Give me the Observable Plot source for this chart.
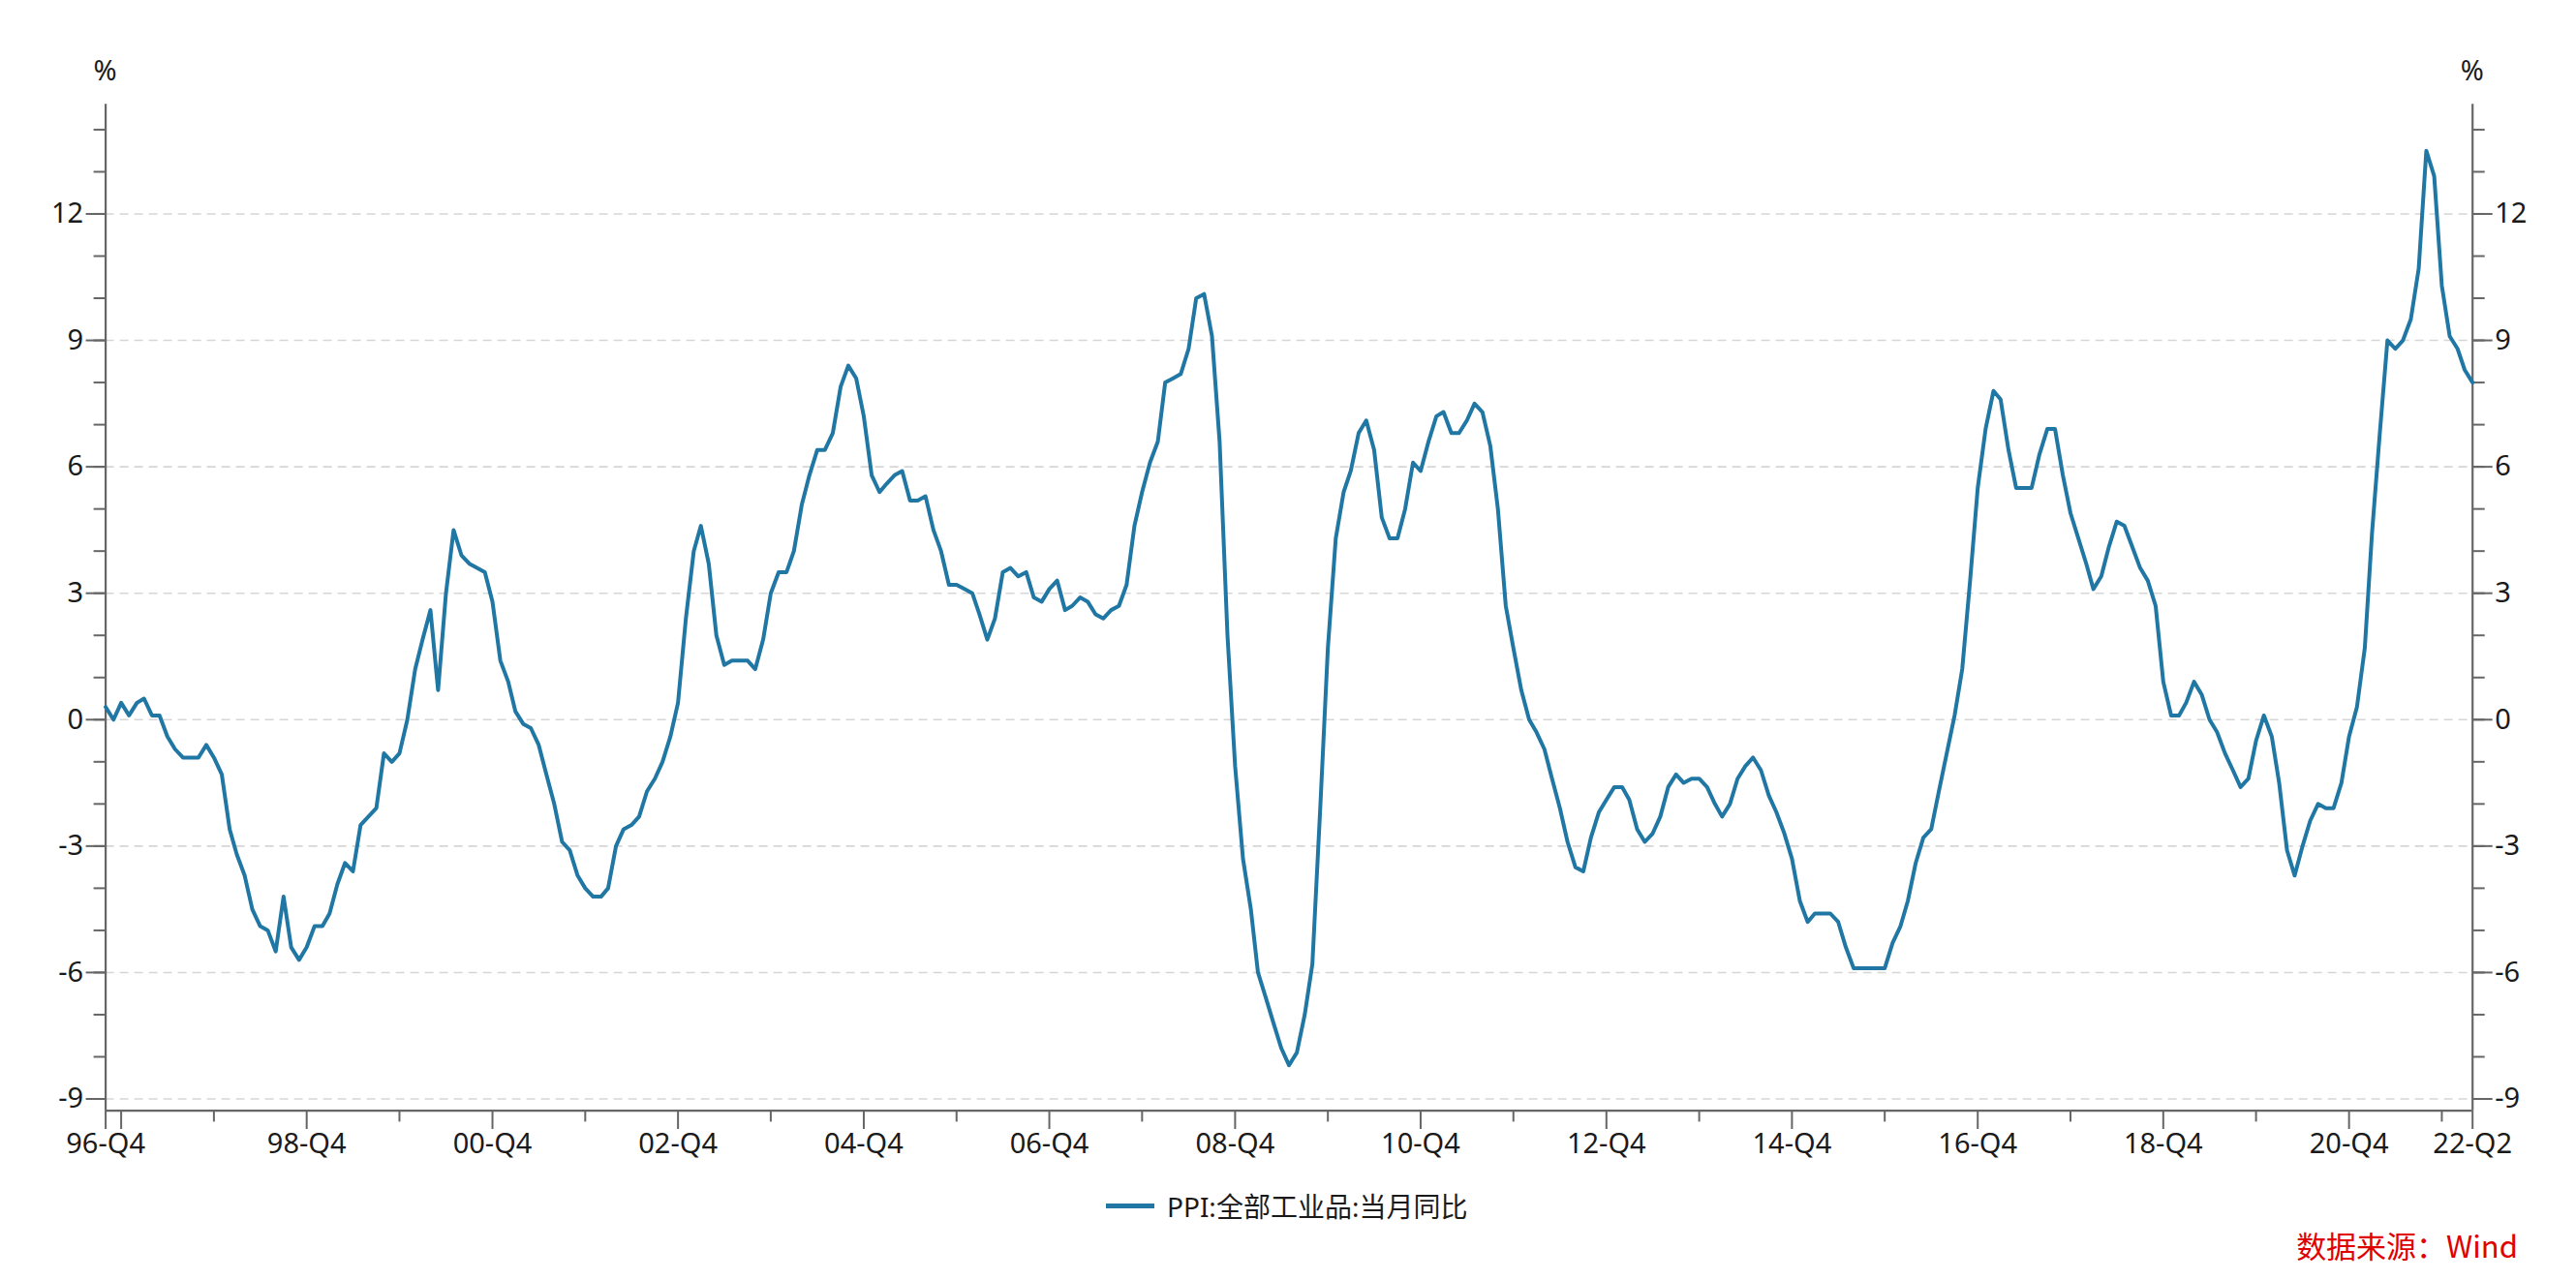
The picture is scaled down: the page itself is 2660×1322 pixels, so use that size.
<!DOCTYPE html>
<html>
<head>
<meta charset="utf-8">
<script src="https://cdn.jsdelivr.net/npm/d3@7"></script>
<script src="https://cdn.jsdelivr.net/npm/@observablehq/plot@0.6"></script>
<style>
  html, body { margin: 0; padding: 0; background: #fff; }
  #wrap { position: relative; width: 2660px; height: 1322px; overflow: hidden; background: #fff;
          font-family: "Noto Sans", "Noto Sans CJK SC", sans-serif; }
  #chart { position: absolute; left: 0; top: 0; }
  .pct { position: absolute; top: 71px; font-size: 29px; color: #1a1a1a; line-height: 1;
         transform: translate(-50%, -50%); }
  #legend { position: absolute; left: 1142px; top: 1245px; transform: translateY(-50%);
            display: flex; align-items: center; font-size: 28px; color: #1a1a1a; white-space: nowrap; }
  #legend .sw { width: 50px; height: 5px; background: #2077a4; margin-right: 13px; }
  #source { position: absolute; right: 60px; top: 1285px; transform: translateY(-50%);
            font-size: 31px; color: #e00000; white-space: nowrap;
            font-family: "Noto Sans CJK SC", "Noto Sans", sans-serif; }
</style>
</head>
<body>
<div id="wrap">
  <div id="chart"></div>
  <div class="pct" id="pctL"></div>
  <div class="pct" id="pctR"></div>
  <div id="legend"><div class="sw"></div><span id="legendText"></span></div>
  <div id="source"></div>
</div>
<script>
// ---- data (monthly, starting 1996-10) ----
const startYM = "1996-10";
const ppi = [
  0.3, 0.0, 0.4, 0.1, 0.4, 0.5, 0.1, 0.1, -0.4, -0.7, -0.9, -0.9,
  -0.9, -0.6, -0.9, -1.3, -2.6, -3.2, -3.7, -4.5, -4.9, -5.0, -5.5, -4.2,
  -5.4, -5.7, -5.4, -4.9, -4.9, -4.6, -3.9, -3.4, -3.6, -2.5, -2.3, -2.1,
  -0.8, -1.0, -0.8, 0.0, 1.2, 1.9, 2.6, 0.7, 3.0, 4.5, 3.9, 3.7,
  3.6, 3.5, 2.8, 1.4, 0.9, 0.2, -0.1, -0.2, -0.6, -1.3, -2.0, -2.9,
  -3.1, -3.7, -4.0, -4.2, -4.2, -4.0, -3.0, -2.6, -2.5, -2.3, -1.7, -1.4,
  -1.0, -0.4, 0.4, 2.4, 4.0, 4.6, 3.7, 2.0, 1.3, 1.4, 1.4, 1.4,
  1.2, 1.9, 3.0, 3.5, 3.5, 4.0, 5.1, 5.8, 6.4, 6.4, 6.8, 7.9,
  8.4, 8.1, 7.2, 5.8, 5.4, 5.6, 5.8, 5.9, 5.2, 5.2, 5.3, 4.5,
  4.0, 3.2, 3.2, 3.1, 3.0, 2.5, 1.9, 2.4, 3.5, 3.6, 3.4, 3.5,
  2.9, 2.8, 3.1, 3.3, 2.6, 2.7, 2.9, 2.8, 2.5, 2.4, 2.6, 2.7,
  3.2, 4.6, 5.4, 6.1, 6.6, 8.0, 8.1, 8.2, 8.8, 10.0, 10.1, 9.1,
  6.6, 2.0, -1.1, -3.3, -4.5, -6.0, -6.6, -7.2, -7.8, -8.2, -7.9, -7.0,
  -5.8, -2.1, 1.7, 4.3, 5.4, 5.9, 6.8, 7.1, 6.4, 4.8, 4.3, 4.3,
  5.0, 6.1, 5.9, 6.6, 7.2, 7.3, 6.8, 6.8, 7.1, 7.5, 7.3, 6.5,
  5.0, 2.7, 1.7, 0.7, 0.0, -0.3, -0.7, -1.4, -2.1, -2.9, -3.5, -3.6,
  -2.8, -2.2, -1.9, -1.6, -1.6, -1.9, -2.6, -2.9, -2.7, -2.3, -1.6, -1.3,
  -1.5, -1.4, -1.4, -1.6, -2.0, -2.3, -2.0, -1.4, -1.1, -0.9, -1.2, -1.8,
  -2.2, -2.7, -3.3, -4.3, -4.8, -4.6, -4.6, -4.6, -4.8, -5.4, -5.9, -5.9,
  -5.9, -5.9, -5.9, -5.3, -4.9, -4.3, -3.4, -2.8, -2.6, -1.7, -0.8, 0.1,
  1.2, 3.3, 5.5, 6.9, 7.8, 7.6, 6.4, 5.5, 5.5, 5.5, 6.3, 6.9,
  6.9, 5.8, 4.9, 4.3, 3.7, 3.1, 3.4, 4.1, 4.7, 4.6, 4.1, 3.6,
  3.3, 2.7, 0.9, 0.1, 0.1, 0.4, 0.9, 0.6, 0.0, -0.3, -0.8, -1.2,
  -1.6, -1.4, -0.5, 0.1, -0.4, -1.5, -3.1, -3.7, -3.0, -2.4, -2.0, -2.1,
  -2.1, -1.5, -0.4, 0.3, 1.7, 4.4, 6.8, 9.0, 8.8, 9.0, 9.5, 10.7,
  13.5, 12.9, 10.3, 9.1, 8.8, 8.3, 8.0
];
const seriesName = "PPI:全部工业品:当月同比";
const sourceText = "数据来源：Wind";
const unitLabel = "%";

// x ticks (month of tick) and their labels
const xMajorTicks = ["1996-10", "1996-12", "1998-12", "2000-12", "2002-12", "2004-12", "2006-12",
                     "2008-12", "2010-12", "2012-12", "2014-12", "2016-12", "2018-12", "2020-12", "2022-04"];
const xMajorLabels = ["96-Q4", "", "98-Q4", "00-Q4", "02-Q4", "04-Q4", "06-Q4",
                      "08-Q4", "10-Q4", "12-Q4", "14-Q4", "16-Q4", "18-Q4", "20-Q4", "22-Q2"];
const xMinorTicks = ["1997-12", "1999-12", "2001-12", "2003-12", "2005-12", "2007-12", "2009-12",
                     "2011-12", "2013-12", "2015-12", "2017-12", "2019-12", "2021-12"];
const yMajorTicks = [-9, -6, -3, 0, 3, 6, 9, 12];
const yMinorTicks = d3.range(-9, 15, 1);
const yDomain = [-9.28, 14.6];

// ---- build ----
const parseYM = s => { const [y, m] = s.split("-").map(Number); return new Date(Date.UTC(y, m - 1, 1)); };
const start = parseYM(startYM);
const data = ppi.map((v, i) => ({
  date: new Date(Date.UTC(start.getUTCFullYear(), start.getUTCMonth() + i, 1)),
  value: v
}));
const majorDates = xMajorTicks.map(parseYM);
const minorDates = xMinorTicks.map(parseYM);
const labelMap = new Map(majorDates.map((d, i) => [+d, xMajorLabels[i]]));

const W = 2660, H = 1215;
const axisStroke = "#666";
const font = "\"Noto Sans\", \"Noto Sans CJK SC\", sans-serif";

const chart = Plot.plot({
  width: W, height: H,
  marginLeft: 108.6, marginRight: 107.3, marginTop: 107.3, marginBottom: H - 1146.7,
  style: { fontFamily: font, fontSize: "29px", color: "#1a1a1a", background: "#fff", overflow: "visible" },
  x: { type: "utc", domain: [data[0].date, data[data.length - 1].date], label: null },
  y: { domain: yDomain, label: null },
  marks: [
    Plot.gridY(yMajorTicks, { stroke: "#d6d6d6", strokeOpacity: 1, strokeWidth: 1.6, strokeDasharray: "9,6" }),
    Plot.ruleX([data[0].date, data[data.length - 1].date], { stroke: axisStroke, strokeWidth: 2.2 }),
    Plot.ruleY([yDomain[0]], { stroke: axisStroke, strokeWidth: 2.2 }),
    Plot.axisY(yMinorTicks, { anchor: "left", tickSize: 12, tickFormat: () => "", stroke: axisStroke, strokeWidth: 2, label: null }),
    Plot.axisY(yMajorTicks, { anchor: "left", tickSize: 20, tickPadding: 3, tickFormat: d => String(d), stroke: axisStroke, strokeWidth: 2, fontSize: 29, label: null }),
    Plot.axisY(yMinorTicks, { anchor: "right", tickSize: 12, tickFormat: () => "", stroke: axisStroke, strokeWidth: 2, label: null }),
    Plot.axisY(yMajorTicks, { anchor: "right", tickSize: 20, tickPadding: 3, tickFormat: d => String(d), stroke: axisStroke, strokeWidth: 2, fontSize: 29, label: null }),
    Plot.axisX(minorDates, { anchor: "bottom", tickSize: 11.7, tickFormat: () => "", stroke: axisStroke, strokeWidth: 2, label: null }),
    Plot.axisX(majorDates, { anchor: "bottom", tickSize: 19.3, tickPadding: 4, tickFormat: d => labelMap.get(+d), stroke: axisStroke, strokeWidth: 2, fontSize: 29, label: null }),
    Plot.lineY(data, { x: "date", y: "value", stroke: "#2077a4", strokeWidth: 4, strokeLinejoin: "round" })
  ]
});
document.getElementById("chart").appendChild(chart);

const pl = document.getElementById("pctL"), pr = document.getElementById("pctR");
pl.textContent = unitLabel; pr.textContent = unitLabel;
pl.style.left = "108.6px"; pr.style.left = (W - 107.3) + "px";
document.getElementById("legendText").textContent = seriesName;
document.getElementById("source").textContent = sourceText;
</script>
</body>
</html>
